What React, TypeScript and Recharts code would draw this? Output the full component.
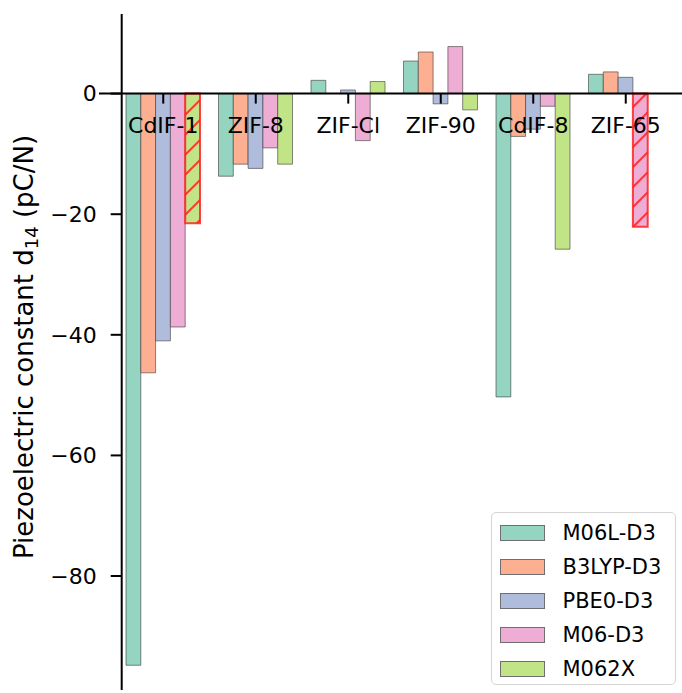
import React from 'react';
import { BarChart, Bar, XAxis, YAxis, ReferenceLine, ReferenceDot, Legend, Cell } from 'recharts';

const categories = ['CdIF-1', 'ZIF-8', 'ZIF-Cl', 'ZIF-90', 'CdIF-8', 'ZIF-65'];
const seriesNames = ['M06L-D3', 'B3LYP-D3', 'PBE0-D3', 'M06-D3', 'M062X'];
const m06l = [-94.8, -13.7, 2.2, 5.4, -50.3, 3.2];
const b3lyp = [-46.3, -11.7, 0, 6.9, -7.1, 3.6];
const pbe0 = [-41.0, -12.4, 0.6, -1.7, -5.9, 2.7];
const m06 = [-38.7, -9.0, -7.8, 7.8, -2.1, -22.1];
const m062x = [-21.5, -11.7, 2.0, -2.7, -25.8, null];
const yTicks = [0, -20, -40, -60, -80];
const highlighted = [
  { series: 'M062X', category: 'CdIF-1' },
  { series: 'M06-D3', category: 'ZIF-65' },
];

const seriesValues = [m06l, b3lyp, pbe0, m06, m062x];
const colors = ['#94d4c0', '#fdaf91', '#afbcdb', '#eeadd5', '#c1e487'];

const data = categories.map((c, i) => {
  const row: any = { category: c };
  seriesNames.forEach((s, k) => {
    row[s] = seriesValues[k][i];
  });
  return row;
});

const FONT = 'DejaVu Sans';

const XTick = (props: any) => {
  const { cx, cy, label } = props;
  return (
    <g>
      <line x1={cx} y1={cy} x2={cx} y2={cy + 10} stroke="#000" strokeWidth={2} />
      <text x={cx} y={cy + 39.5} textAnchor="middle" fontSize={22} fontFamily={FONT} fill="#000">
        {label}
      </text>
    </g>
  );
};

const YLabel = () => (
  <text
    transform="translate(33,347) rotate(-90)"
    textAnchor="middle"
    fontSize={26}
    fontFamily={FONT}
    fill="#000"
  >
    Piezoelectric constant d
    <tspan dy={5} fontSize={18}>14</tspan>
    <tspan dy={-5}> (pC/N)</tspan>
  </text>
);

const LegendBox = (props: any) => {
  const { payload } = props;
  const items = [...(payload || [])].sort(
    (a: any, b: any) => seriesNames.indexOf(a.value) - seriesNames.indexOf(b.value)
  );
  return (
    <div
      style={{
        boxSizing: 'border-box',
        width: 185,
        height: 173,
        border: '1.5px solid #d5d5d5',
        borderRadius: 5,
        background: 'rgba(255,255,255,0.8)',
        padding: '3px 0 0 7.5px',
        fontFamily: FONT,
        fontSize: 21,
        color: '#000',
      }}
    >
      {items.map((p: any) => (
        <div key={p.value} style={{ display: 'flex', alignItems: 'center', height: 34 }}>
          <span
            style={{
              display: 'inline-block',
              width: 45,
              height: 16,
              boxSizing: 'border-box',
              background: colors[seriesNames.indexOf(p.value)],
              border: '1px solid #6f6f6f',
            }}
          />
          <span style={{ marginLeft: 18, lineHeight: '21px' }}>{p.value}</span>
        </div>
      ))}
    </div>
  );
};

export default function App() {
  return (
    <div style={{ position: 'absolute', left: 0, top: 0, width: 682, height: 693, background: '#fff' }}>
      <BarChart
        width={682}
        height={693}
        data={data}
        margin={{ top: 14, right: 10, bottom: 3, left: 0 }}
        barCategoryGap="10%"
        barGap={0}
        barSize={14.8}
        style={{ fontFamily: FONT }}
      >
        <defs>
          {highlighted.map((h) => {
            const k = seriesNames.indexOf(h.series);
            return (
              <pattern
                key={h.series}
                id={`hatch-${k}`}
                patternUnits="userSpaceOnUse"
                width={20}
                height={20}
              >
                <rect x={0} y={0} width={20} height={20} fill={colors[k]} />
                <path
                  d="M0,20 L20,0 M-5,5 L5,-5 M15,25 L25,15"
                  stroke="#ff2020"
                  strokeOpacity={0.85}
                  strokeWidth={2}
                />
              </pattern>
            );
          })}
        </defs>
        <XAxis dataKey="category" hide padding={{ left: -4.7, right: 0 }} />
        <YAxis
          type="number"
          domain={[-98.9, 13.2]}
          ticks={yTicks}
          interval={0}
          width={121.7}
          axisLine={{ stroke: '#000', strokeWidth: 2 }}
          tickLine={{ stroke: '#000', strokeWidth: 2 }}
          tickSize={11}
          tickMargin={14}
          tick={{ fill: '#000', fontSize: 22, fontFamily: FONT }}
          tickFormatter={(v: number) => String(v).replace('-', '\u2212')}
          label={<YLabel />}
        />
        {seriesNames.map((s, k) => (
          <Bar
            key={s}
            dataKey={s}
            name={s}
            fill={colors[k]}
            stroke="#3a3a3a"
            strokeOpacity={0.6}
            strokeWidth={1}
            isAnimationActive={false}
          >
            {categories.map((c) => {
              const hl = highlighted.some((h) => h.series === s && h.category === c);
              return hl ? (
                <Cell key={c} fill={`url(#hatch-${k})`} stroke="#ff2020" strokeOpacity={0.85} strokeWidth={2} />
              ) : (
                <Cell key={c} fill={colors[k]} />
              );
            })}
          </Bar>
        ))}
        <ReferenceLine
          y={0}
          shape={(p: any) => (
            <line x1={99} y1={p.y1} x2={682} y2={p.y2} stroke="#000" strokeWidth={2} />
          )}
        />
        {categories.map((c) => (
          <ReferenceDot key={c} x={c} y={0} r={0} shape={(p: any) => <XTick {...p} label={c} />} />
        ))}
        <Legend
          layout="vertical"
          align="center"
          verticalAlign="middle"
          content={<LegendBox />}
          wrapperStyle={{ left: 491, top: 512, width: 185, height: 173, right: 'auto', bottom: 'auto' }}
        />
      </BarChart>
    </div>
  );
}
